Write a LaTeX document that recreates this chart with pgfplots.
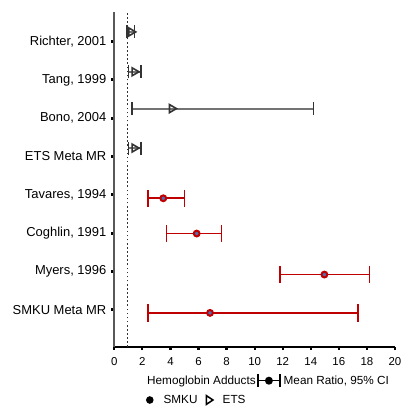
\documentclass[border=0pt]{standalone}
\usepackage{fontspec}
\setmainfont{Liberation Sans}
\usepackage{pgfplots}
\usepackage{pgfplotstable}
\pgfplotsset{compat=1.18}
\definecolor{smkuRed}{HTML}{C00000}
\definecolor{etsGray}{HTML}{333333}
\definecolor{ptBlue}{HTML}{4F6FB0}

% ETS studies (y offset up from the category tick)
\pgfplotstableread{
y    mean lo   hi
8.25 1.20 0.90 1.45
7.21 1.43 1.00 1.92
6.25 4.10 1.24 14.18
5.22 1.43 1.00 1.92
}\etsdata

% SMKU studies
\pgfplotstableread{
y    mean lo   hi
3.91 3.49 2.38 4.99
2.99 5.87 3.73 7.63
1.92 14.97 11.80 18.17
}\smkudata

% SMKU meta estimate
\pgfplotstableread{
y    mean lo   hi
0.92 6.82 2.38 17.39
}\smkumeta

\newcommand{\cisym}{\tikz[baseline=-0.6ex]{\draw[line width=1.5bp] (-11bp,-6.5bp)--(-11bp,6.5bp) (11bp,-6.5bp)--(11bp,6.5bp) (-11bp,0)--(11bp,0); \fill (0,0) circle (4bp);}}
\newcommand{\dotsym}{\tikz[baseline=-0.6ex]{\fill (0,0) circle (3.8bp);}}
\newcommand{\trisym}{\tikz[baseline=-0.6ex]{\draw[line width=1.5bp,line join=miter] (-2.8bp,-4.4bp)--(3.8bp,0)--(-2.8bp,4.4bp)--cycle;}}

\begin{document}
\begin{tikzpicture}
\begin{axis}[name=ax,
  scale only axis, width=280.7bp, height=335bp,
  xmin=0, xmax=20, ymin=0.03, ymax=8.77,
  axis x line=bottom, axis y line=left,
  axis line style={-},
  x axis line style={black,line width=1.4bp},
  y axis line style={draw=gray!70!black,line width=1.6bp},
  xtick={0,2,...,20},
  ytick={1,...,8},
  yticklabels={SMKU Meta MR,{Myers, 1996},{Coghlin, 1991},{Tavares, 1994},ETS Meta MR,{Bono, 2004},{Tang, 1999},{Richter, 2001}},
  tick align=outside, major tick length=3bp,
  xtick style={black,line width=2.2bp},
  ytick style={black,line width=3bp},
  x tick label style={font=\fontsize{11.5}{13}\selectfont, anchor=base, yshift=-15.5bp},
  y tick label style={font=\fontsize{13}{15}\selectfont, xshift=-1.5bp},
  /pgf/number format/assume math mode=true,
  clip=false,
]
% reference line at mean ratio 1
\addplot[color=black!80, line width=1.6bp, dash pattern=on 1.6bp off 2.5bp] coordinates {(0.95,0.03) (0.95,8.77)};

\addplot[only marks, mark=triangle, mark size=4.6bp,
  mark options={rotate=-90, draw=etsGray, fill=white, line width=1.6bp},
  error bars/.cd, x dir=both, x explicit,
  error bar style={color=gray!90!black, line width=2bp},
  error mark options={rotate=90, color=etsGray, line width=1.6bp, mark size=6.5bp}]
  table[x=mean, y=y,
    x error plus expr=\thisrow{hi}-\thisrow{mean},
    x error minus expr=\thisrow{mean}-\thisrow{lo}] {\etsdata};

\addplot[only marks, mark=*, mark size=2.9bp,
  mark options={draw=smkuRed, fill=ptBlue, line width=2bp},
  error bars/.cd, x dir=both, x explicit,
  error bar style={color=smkuRed, line width=1.7bp},
  error mark options={rotate=90, color=smkuRed, line width=1.6bp, mark size=8.5bp}]
  table[x=mean, y=y,
    x error plus expr=\thisrow{hi}-\thisrow{mean},
    x error minus expr=\thisrow{mean}-\thisrow{lo}] {\smkudata};

\addplot[only marks, mark=*, mark size=2.9bp,
  mark options={draw=smkuRed, fill=ptBlue, line width=2bp},
  error bars/.cd, x dir=both, x explicit,
  error bar style={color=smkuRed, line width=2.6bp},
  error mark options={rotate=90, color=smkuRed, line width=1.8bp, mark size=9bp}]
  table[x=mean, y=y,
    x error plus expr=\thisrow{hi}-\thisrow{mean},
    x error minus expr=\thisrow{mean}-\thisrow{lo}] {\smkumeta};
\end{axis}

\node[anchor=west, inner sep=0pt, font=\fontsize{11.8}{14}\selectfont]
  at ([xshift=32.7bp, yshift=-33.7bp]ax.south west)
  {Hemoglobin Adducts\hspace{1.5bp}\cisym\hspace{3bp}Mean Ratio, 95\% CI};
\node[anchor=west, inner sep=0pt, font=\fontsize{11.8}{14}\selectfont]
  at ([xshift=31.5bp, yshift=-53bp]ax.south west)
  {\dotsym\hspace{10bp}SMKU\hspace{8bp}\trisym\hspace{9bp}ETS};

\pgfresetboundingbox
\path[use as bounding box] (ax.south west) ++(-114.3bp,-61bp) rectangle ++(401bp,408bp);
\end{tikzpicture}
\end{document}
